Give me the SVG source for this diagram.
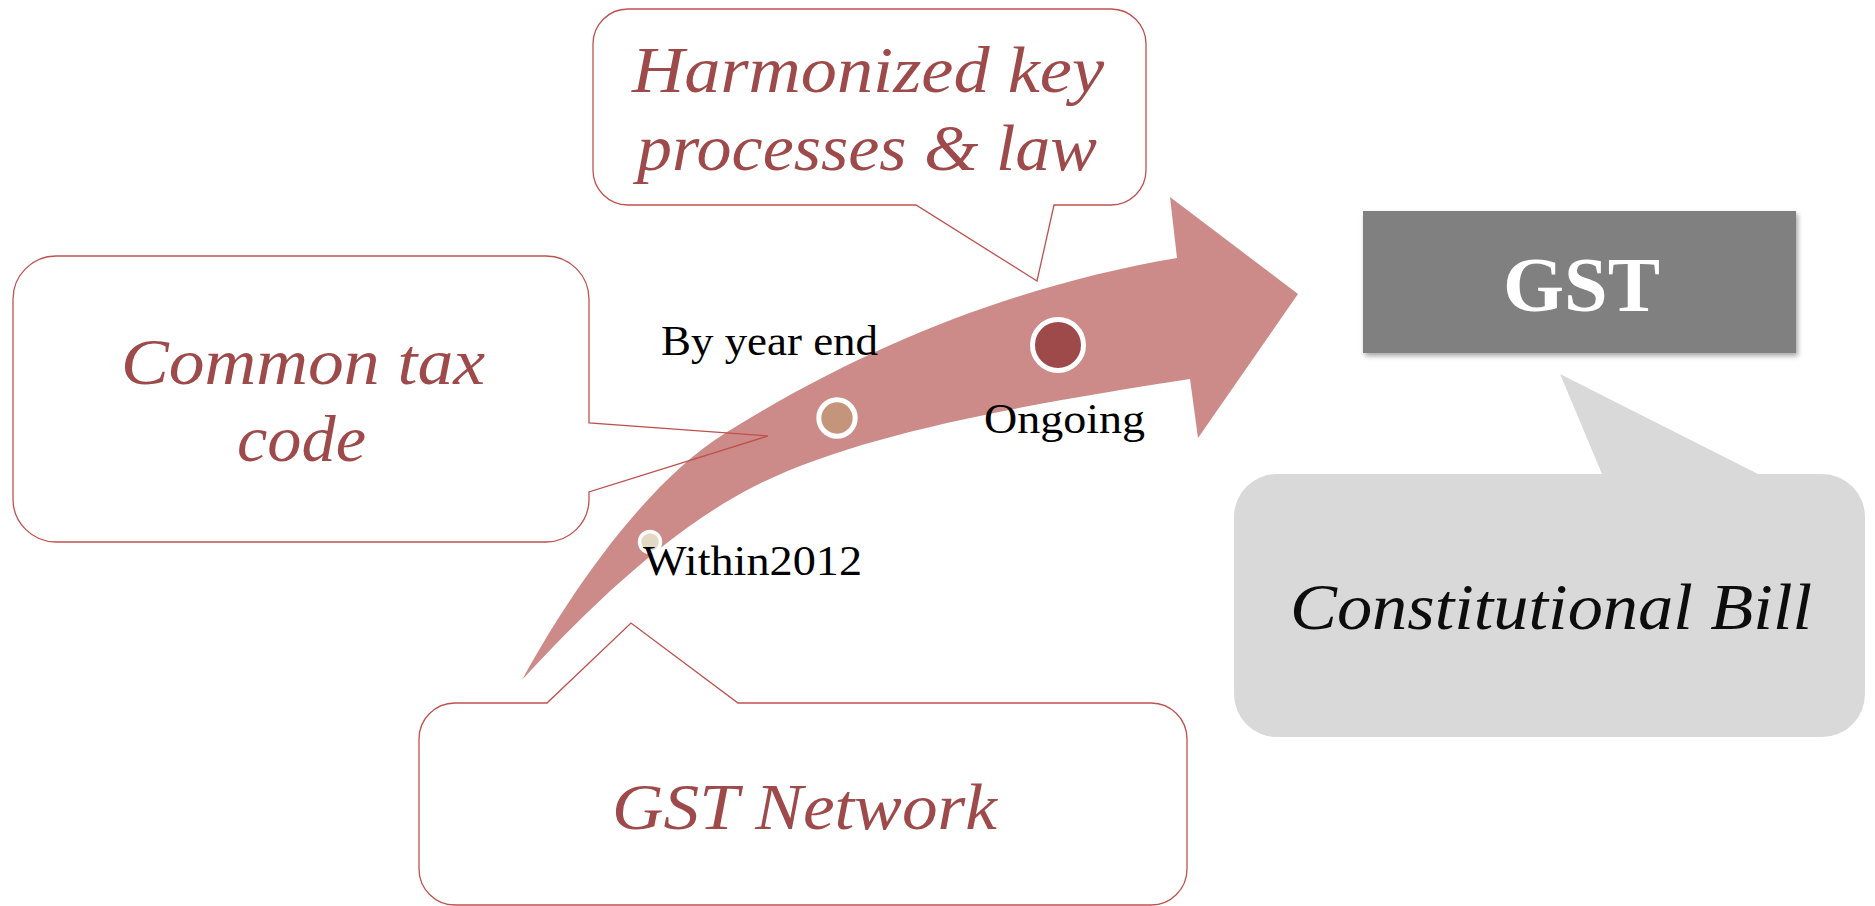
<svg xmlns="http://www.w3.org/2000/svg" width="1875" height="906" viewBox="0 0 1875 906">
  <defs>
    <filter id="shadow" x="-5%" y="-10%" width="115%" height="130%">
      <feDropShadow dx="2" dy="3" stdDeviation="2.5" flood-color="#000" flood-opacity="0.35"/>
    </filter>
  </defs>
  <style>
    .callout { fill: none; stroke: #C0504D; stroke-width: 1.3; }
    .red { font-family: "Liberation Serif", "Times New Roman", serif; font-style: italic; font-size: 66px; fill: #9E4A4A; }
    .lbl { font-family: "Liberation Serif", "Times New Roman", serif; font-size: 42px; fill: #000; }
    .dot { stroke: #FFFFFF; }
  </style>
  <rect x="0" y="0" width="1875" height="906" fill="#FFFFFF"/>

  <g id="connectors">
    <path id="timeline-arrow" fill="#CC8B89" d="M 522 680 C 552 625 633 490 727 432 C 877 339 1027 283.5 1177 258 L 1170 197 L 1298 294 L 1198 438 L 1190 379 C 1042 402 859 432 753 487 C 664 533 583 614 522 680 Z"/>
  </g>

  <g id="milestone-within2012">
    <circle class="dot" cx="650" cy="542" r="10.5" fill="#E3D8C4" stroke-width="3.5"/>
    <text class="lbl" x="643" y="575" textLength="219" lengthAdjust="spacingAndGlyphs">Within2012</text>
  </g>
  <g id="milestone-by-year-end">
    <circle class="dot" cx="837" cy="418" r="18.2" fill="#C4957B" stroke-width="5"/>
    <text class="lbl" x="661" y="355" textLength="217" lengthAdjust="spacingAndGlyphs">By year end</text>
  </g>
  <g id="milestone-ongoing">
    <circle class="dot" cx="1058" cy="345" r="25.5" fill="#9E4A4A" stroke-width="5"/>
    <text class="lbl" x="984" y="433" textLength="161" lengthAdjust="spacingAndGlyphs">Ongoing</text>
  </g>

  <g id="harmonized">
    <path class="callout" d="M 628 9 H 1111 A 35 35 0 0 1 1146 44 V 170 A 35 35 0 0 1 1111 205 H 1054 L 1037 281 L 916 205 H 628 A 35 35 0 0 1 593 170 V 44 A 35 35 0 0 1 628 9 Z"/>
    <text class="red" x="632" y="92" textLength="472" lengthAdjust="spacingAndGlyphs">Harmonized key</text>
    <text class="red" x="637" y="170" textLength="460" lengthAdjust="spacingAndGlyphs">processes &amp; law</text>
  </g>

  <g id="common-tax-code">
    <path class="callout" d="M 56 256 H 546 A 43 43 0 0 1 589 299 V 423 L 768 436 L 589 492 V 499 A 43 43 0 0 1 546 542 H 56 A 43 43 0 0 1 13 499 V 299 A 43 43 0 0 1 56 256 Z"/>
    <text class="red" x="121" y="384" textLength="364" lengthAdjust="spacingAndGlyphs">Common tax</text>
    <text class="red" x="237" y="461" textLength="129" lengthAdjust="spacingAndGlyphs">code</text>
  </g>

  <g id="gst-network">
    <path class="callout" d="M 455 703 H 547 L 631 623 L 738 703 H 1151 A 36 36 0 0 1 1187 739 V 869 A 36 36 0 0 1 1151 905 H 455 A 36 36 0 0 1 419 869 V 739 A 36 36 0 0 1 455 703 Z"/>
    <text class="red" x="612" y="829" textLength="385" lengthAdjust="spacingAndGlyphs">GST Network</text>
  </g>

  <g id="gst">
    <rect x="1363" y="211" width="433" height="142" fill="#808080" filter="url(#shadow)"/>
    <text x="1503" y="311" textLength="157" lengthAdjust="spacingAndGlyphs" font-family="'Liberation Serif', 'Times New Roman', serif" font-weight="bold" font-size="78" fill="#FFFFFF">GST</text>
  </g>

  <g id="constitutional-bill">
    <path fill="#D9D9D9" d="M 1277 474 H 1602 L 1560 374 L 1758 474 H 1822 A 43 43 0 0 1 1865 517 V 694 A 43 43 0 0 1 1822 737 H 1277 A 43 43 0 0 1 1234 694 V 517 A 43 43 0 0 1 1277 474 Z"/>
    <text class="red" x="1290" y="629" textLength="522" lengthAdjust="spacingAndGlyphs" style="fill:#0D0D0D">Constitutional Bill</text>
  </g>
</svg>
